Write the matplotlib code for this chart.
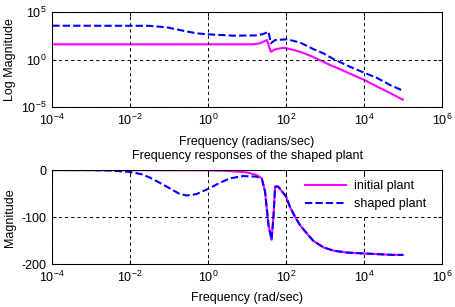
import matplotlib
matplotlib.use("Agg")
import matplotlib.pyplot as plt
import numpy as np

plt.rcParams['font.family'] = ['Liberation Sans', 'DejaVu Sans']
plt.rcParams['mathtext.fontset'] = 'custom'
plt.rcParams['mathtext.rm'] = 'Liberation Sans'
plt.rcParams['mathtext.it'] = 'Liberation Sans'
plt.rcParams['axes.unicode_minus'] = False
plt.rcParams['font.size'] = 9

# top panel: frequency and log10 of magnitude
w_init_mag = [1e-4, 14.5, 21.4, 32.4, 40.7, 52.5, 85, 126, 229, 417, 741, 1350,
              2400, 4370, 1e4, 21400, 46800, 1e5]
logmag_init = [1.63, 1.63, 1.74, 2.08, 0.85, 1.1, 1.27, 1.13, 0.85, 0.43, -0.03,
               -0.55, -0.97, -1.46, -2.1, -2.8, -3.5, -4.2]

w_shaped_mag = [1e-4, 0.03, 0.087, 0.23, 0.5, 1, 4.5, 17.8, 26.3, 35.5, 40.7, 52.5,
                105, 229, 500, 912, 1660, 4370, 1e4, 21400, 46800, 1e5]
logmag_shaped = [3.59, 3.58, 3.42, 3.06, 2.79, 2.68, 2.54, 2.57, 2.72, 2.96, 1.74,
                 2.08, 2.16, 1.82, 1.13, 0.68, 0.08, -0.73, -1.35, -1.9, -2.65, -3.25]

# bottom panel: phase
w_init_ph = [1e-4, 1, 3, 10, 17.8, 24, 29, 35.5, 42.7, 47.9, 52.5, 63, 100, 126,
             170, 229, 339, 500, 912, 1660, 3630, 1e4, 57500, 1e5]
ph_init = [0, -0.5, -1.5, -5, -10.6, -17.7, -46, -117, -148, -95, -35, -35, -56,
           -78, -99, -117, -134, -150, -164, -171, -175, -177, -180, -180]

w_shaped_ph = [1e-4, 1e-3, 0.003, 0.01, 0.02, 0.032, 0.06, 0.105, 0.18, 0.28, 0.5,
               1, 2, 3.6, 8, 17.8, 24, 29, 35.5, 42.7, 47.9, 52.5, 63, 100, 126,
               170, 229, 339, 500, 912, 1660, 3630, 1e4, 57500, 1e5]
ph_shaped = [0, 0, -1, -4, -9, -16, -28, -39, -50, -54, -51, -40, -27, -17.7, -12.7,
             -14, -19, -46, -117, -148, -95, -35, -35, -56, -78, -99, -117, -134,
             -150, -164, -171, -175, -177, -180, -180]

xticks = [1e-4, 1e-2, 1e0, 1e2, 1e4, 1e6]

fig = plt.figure(figsize=(4.55, 3.07), dpi=100)
ax1 = fig.add_axes([0.115, 0.6505, 0.856, 0.3094])
ax2 = fig.add_axes([0.115, 0.139, 0.856, 0.307])

mag_c = '#ff00ff'
sh_c = '#0000ff'
dash = (0, (3.5, 1.5))
grid_kw = dict(color='black', lw=0.75, ls=(0, (3, 3)))

ax1.loglog(w_init_mag, 10.0 ** np.array(logmag_init), color=mag_c, lw=1.5)
ax1.loglog(w_shaped_mag, 10.0 ** np.array(logmag_shaped), color=sh_c, lw=1.5, ls=dash)
ax1.set_ylim(1e-5, 1e5)
ax1.set_yticks([1e-5, 1e0, 1e5])
ax1.set_ylabel('Log Magnitude', labelpad=4)
ax1.set_xlabel('Frequency (radians/sec)', labelpad=6)

ax2.semilogx(w_init_ph, ph_init, color=mag_c, lw=1.5, label='initial plant')
ax2.semilogx(w_shaped_ph, ph_shaped, color=sh_c, lw=1.5, ls=dash, label='shaped plant')
ax2.set_ylim(-200, 0)
ax2.set_yticks([-200, -100, 0])
ax2.set_ylabel('Magnitude', labelpad=4)
ax2.set_xlabel('Frequency (rad/sec)', labelpad=5)
ax2.set_title('Frequency responses of the shaped plant', fontsize=9, pad=8)
leg = ax2.legend(loc='upper right', bbox_to_anchor=(0.969, 0.93), frameon=True,
                 fancybox=False, edgecolor='white', facecolor='white', framealpha=1,
                 handlelength=3.3, handletextpad=0.6, labelspacing=0.45,
                 borderpad=0.3, borderaxespad=0)

for ax in (ax1, ax2):
    ax.set_xlim(1e-4, 1e6)
    ax.set_xticks(xticks)
    ax.minorticks_off()
    ax.grid(True, **grid_kw)
    ax.tick_params(direction='in', length=3, width=0.75, top=True, right=True,
                   labelsize=9, pad=4)
    for s in ax.spines.values():
        s.set_linewidth(0.75)
    ax.set_axisbelow(False)

fig.savefig('out.png', dpi=100)
